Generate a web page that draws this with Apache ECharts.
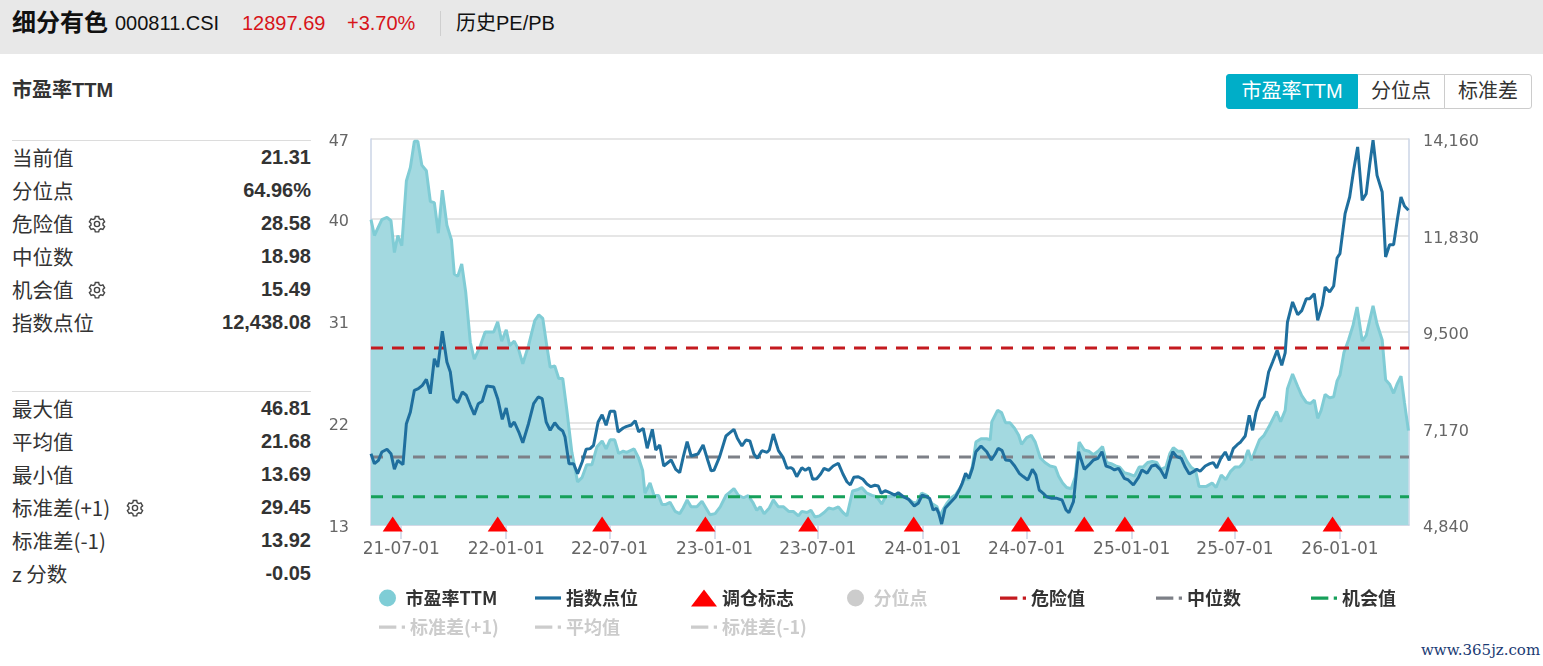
<!DOCTYPE html>
<html><head><meta charset="utf-8">
<script src="https://cdn.jsdelivr.net/npm/echarts@6/dist/echarts.min.js"></script>
<style>
html,body{margin:0;padding:0;width:1543px;height:666px;overflow:hidden;background:#fff;font-family:"Liberation Sans",Arial,"Noto Sans CJK SC",sans-serif;color:#333;}
.abs{position:absolute;white-space:nowrap;}
#header{position:absolute;left:0;top:0;width:1543px;height:54px;background:#e8e8e8;}
.cjk{font-family:"Liberation Sans","Noto Sans CJK SC",sans-serif;}
#btns{position:absolute;left:1226px;top:74px;height:35px;display:flex;}
.btn{height:33px;line-height:33px;font-size:20px;text-align:center;border:1px solid #ccc;background:#fff;color:#333;font-family:"Liberation Sans","Noto Sans CJK SC",sans-serif;}
.btn.active{background:#00aec8;border-color:#00aec8;color:#fff;border-radius:3px 0 0 3px;}
.btn.last{border-radius:0 3px 3px 0;}
.panel{position:absolute;left:12px;width:299px;border-top:1px solid #dcdcdc;}
.row{position:relative;height:33px;line-height:33px;font-size:20px;}
.row .lab{position:absolute;left:0;top:0;font-family:"Noto Sans CJK SC",sans-serif;font-size:20.5px;color:#333;}
.row .val{position:absolute;right:0;top:0;font-weight:bold;font-family:"Liberation Sans",Arial,sans-serif;font-size:20px;color:#333;}
.gear{position:absolute;top:7px;}
#chart{position:absolute;left:0;top:0;width:1543px;height:666px;}
</style>
</head><body>
<div id="header"></div>
<div class="abs cjk" style="left:12px;top:7px;font-size:24px;font-weight:bold;line-height:32px;color:#111;">细分有色</div>
<div class="abs" style="left:115px;top:9px;font-size:20px;line-height:28px;color:#111;">000811.CSI</div>
<div class="abs" style="left:242px;top:9px;font-size:20px;line-height:28px;color:#d7141a;">12897.69</div>
<div class="abs" style="left:347px;top:9px;font-size:20px;line-height:28px;color:#d7141a;">+3.70%</div>
<div class="abs" style="left:440px;top:11px;width:1px;height:25px;background:#cfcfcf;"></div>
<div class="abs cjk" style="left:456px;top:9px;font-size:20px;line-height:28px;color:#111;">历史PE/PB</div>
<div class="abs cjk" style="left:12px;top:76px;font-size:20px;font-weight:bold;line-height:28px;color:#333;">市盈率TTM</div>
<div id="btns"><div class="btn active" style="width:130px;">市盈率TTM</div><div class="btn" style="width:86px;border-left:none;">分位点</div><div class="btn last" style="width:86px;border-left:1px solid #ccc;margin-left:-1px;">标准差</div></div>

<div class="panel" style="top:140px;">
 <div class="row"><span class="lab">当前值</span><span class="val">21.31</span></div>
 <div class="row"><span class="lab">分位点</span><span class="val">64.96%</span></div>
 <div class="row"><span class="lab">危险值</span><svg class="gear" style="left:75px" width="20" height="20" viewBox="0 0 20 20"><g fill="none" stroke="#444" stroke-width="1.4"><path d="M8.3 2.5h3.4l.5 2.2 1.6.9 2.1-.7 1.7 2.9-1.6 1.5v1.8l1.6 1.5-1.7 2.9-2.1-.7-1.6.9-.5 2.2H8.3l-.5-2.2-1.6-.9-2.1.7-1.7-2.9 1.6-1.5V9.3L2.4 7.8l1.7-2.9 2.1.7 1.6-.9z"/><circle cx="10" cy="10" r="2.6"/></g></svg><span class="val">28.58</span></div>
 <div class="row"><span class="lab">中位数</span><span class="val">18.98</span></div>
 <div class="row"><span class="lab">机会值</span><svg class="gear" style="left:75px" width="20" height="20" viewBox="0 0 20 20"><g fill="none" stroke="#444" stroke-width="1.4"><path d="M8.3 2.5h3.4l.5 2.2 1.6.9 2.1-.7 1.7 2.9-1.6 1.5v1.8l1.6 1.5-1.7 2.9-2.1-.7-1.6.9-.5 2.2H8.3l-.5-2.2-1.6-.9-2.1.7-1.7-2.9 1.6-1.5V9.3L2.4 7.8l1.7-2.9 2.1.7 1.6-.9z"/><circle cx="10" cy="10" r="2.6"/></g></svg><span class="val">15.49</span></div>
 <div class="row"><span class="lab">指数点位</span><span class="val">12,438.08</span></div>
</div>
<div class="panel" style="top:391px;">
 <div class="row"><span class="lab">最大值</span><span class="val">46.81</span></div>
 <div class="row"><span class="lab">平均值</span><span class="val">21.68</span></div>
 <div class="row"><span class="lab">最小值</span><span class="val">13.69</span></div>
 <div class="row"><span class="lab">标准差(+1)</span><svg class="gear" style="left:113px" width="20" height="20" viewBox="0 0 20 20"><g fill="none" stroke="#444" stroke-width="1.4"><path d="M8.3 2.5h3.4l.5 2.2 1.6.9 2.1-.7 1.7 2.9-1.6 1.5v1.8l1.6 1.5-1.7 2.9-2.1-.7-1.6.9-.5 2.2H8.3l-.5-2.2-1.6-.9-2.1.7-1.7-2.9 1.6-1.5V9.3L2.4 7.8l1.7-2.9 2.1.7 1.6-.9z"/><circle cx="10" cy="10" r="2.6"/></g></svg><span class="val">29.45</span></div>
 <div class="row"><span class="lab">标准差(-1)</span><span class="val">13.92</span></div>
 <div class="row"><span class="lab">z 分数</span><span class="val">-0.05</span></div>
</div>
<div class="abs" style="left:1421px;top:640px;font-family:'DejaVu Serif',serif;font-size:15px;line-height:20px;color:#1b3a73;">www.365jz.com</div>
<div id="chart"></div>
<script>
// ---- data ----
const peDates = [
'2021-05-09','2021-05-15','2021-05-28','2021-06-06','2021-06-13','2021-06-19','2021-06-25','2021-07-02','2021-07-10','2021-07-17','2021-07-24','2021-07-30','2021-08-06','2021-08-14','2021-08-21','2021-08-28','2021-09-04','2021-09-11','2021-09-19','2021-09-27','2021-10-02','2021-10-08','2021-10-15','2021-10-22','2021-10-30','2021-11-06','2021-11-16','2021-11-25','2021-12-10','2021-12-17','2021-12-24','2022-01-01','2022-01-07','2022-01-15','2022-01-23','2022-01-30','2022-02-09','2022-02-20','2022-02-27','2022-03-06','2022-03-13','2022-03-19','2022-03-27','2022-04-03','2022-04-10','2022-04-17','2022-04-26','2022-05-06','2022-05-14','2022-05-22','2022-05-31','2022-06-09','2022-06-18','2022-06-25','2022-07-02','2022-07-10','2022-07-17','2022-07-25',
'2022-07-31','2022-08-13','2022-08-21','2022-08-28','2022-09-01','2022-09-10','2022-09-17','2022-09-25','2022-10-01','2022-10-07','2022-10-15','2022-10-24','2022-11-01','2022-11-07','2022-11-14','2022-11-21','2022-12-01','2022-12-10','2022-12-17','2022-12-24','2023-01-02','2023-01-11','2023-01-21','2023-01-28','2023-02-04','2023-02-12','2023-02-21','2023-03-01','2023-03-09','2023-03-16','2023-03-22','2023-03-29','2023-04-07','2023-04-14','2023-04-23','2023-05-02','2023-05-11','2023-05-19','2023-05-28','2023-06-03','2023-06-12','2023-06-19','2023-06-26','2023-07-04','2023-07-12','2023-07-20','2023-07-28','2023-08-06','2023-08-14','2023-08-21','2023-08-31','2023-09-08','2023-09-16','2023-09-25','2023-10-04','2023-10-12',
'2023-10-21','2023-10-28','2023-11-06','2023-11-15','2023-11-24','2023-12-04','2023-12-14','2023-12-21','2023-12-30','2024-01-08','2024-01-17','2024-01-26','2024-01-31','2024-02-06','2024-02-12','2024-02-20','2024-02-28','2024-03-08','2024-03-15','2024-03-21','2024-03-28','2024-04-03','2024-04-12','2024-04-22','2024-04-28','2024-05-01','2024-05-11','2024-05-18','2024-05-25','2024-06-02','2024-06-10','2024-06-17','2024-06-22','2024-07-01','2024-07-09','2024-07-16','2024-07-25','2024-08-02','2024-08-11','2024-08-20','2024-08-26','2024-09-02','2024-09-09','2024-09-17','2024-09-24','2024-10-01','2024-10-10','2024-10-18','2024-10-26','2024-11-03','2024-11-11','2024-11-18','2024-11-26','2024-12-04','2024-12-11','2024-12-19','2024-12-27','2025-01-06','2025-01-14','2025-01-21','2025-01-29','2025-02-06','2025-02-14','2025-02-21','2025-03-02','2025-03-09','2025-03-15','2025-03-23','2025-03-30','2025-04-08','2025-04-15','2025-04-23','2025-04-29',
'2025-05-12','2025-05-22','2025-05-29','2025-06-07','2025-06-15','2025-06-23','2025-07-01','2025-07-09','2025-07-16','2025-07-24','2025-07-30','2025-08-05','2025-08-13','2025-08-21','2025-08-29','2025-09-05','2025-09-12','2025-09-19','2025-09-27','2025-10-01','2025-10-10','2025-10-19','2025-10-26','2025-11-03','2025-11-10','2025-11-17','2025-11-23','2025-11-29','2025-12-06','2025-12-14','2025-12-21','2025-12-27','2026-01-01','2026-01-08','2026-01-16','2026-01-24','2026-01-31','2026-02-09','2026-02-16','2026-02-22','2026-02-28','2026-03-07','2026-03-16','2026-03-22','2026-03-29','2026-04-05','2026-04-11','2026-04-18','2026-04-24','2026-05-01'
];
const peValues = [
39.9,38.5,39.9,40.1,39.8,37.0,38.5,37.6,43.3,44.5,46.8,46.8,44.7,44.2,41.5,41.4,38.7,42.5,39.4,38.1,35.1,34.9,36.0,33.5,29.1,27.6,28.7,30.0,30.0,30.9,29.2,30.2,28.8,29.2,28.4,27.2,28.8,31.0,31.5,31.2,28.8,26.9,27.0,25.9,25.9,23.2,19.4,16.8,17.2,18.3,18.3,19.9,20.4,19.7,20.5,20.5,19.3,19.5,
19.4,19.7,18.9,17.8,15.8,16.7,15.6,15.6,14.8,14.8,15.0,14.2,14.0,14.5,15.2,14.6,14.6,15.1,14.5,13.9,14.0,14.6,15.6,15.9,16.2,15.6,15.4,15.6,15.0,14.3,14.6,14.0,14.5,15.2,14.6,14.6,14.2,14.2,13.8,14.2,14.1,14.3,13.7,13.8,14.1,14.5,14.4,14.6,14.1,13.8,16.0,16.1,16.3,15.8,15.6,15.5,
14.85,15.5,15.5,15.6,15.5,15.4,15.0,14.95,15.8,15.6,14.9,14.6,13.8,14.4,14.9,15.4,15.7,16.4,17.1,17.0,18.2,20.3,20.6,20.6,20.5,22.1,23.1,22.9,22.0,22.0,21.5,20.9,20.1,20.7,20.9,20.3,18.9,18.5,18.2,18.1,17.3,16.7,16.3,16.2,17.2,20.3,19.6,19.5,19.2,19.5,19.9,18.5,18.4,18.2,18.1,17.6,17.5,17.3,18.1,18.1,18.5,18.6,18.5,17.9,18.1,19.3,19.8,19.5,19.5,18.6,18.1,17.8,16.4,
16.4,16.7,16.3,17.4,17.0,17.7,18.1,18.1,18.5,19.6,18.7,19.5,20.5,20.9,21.6,22.3,23.0,22.1,23.1,25.0,26.3,25.2,24.4,23.8,23.7,24.0,22.4,23.1,24.5,24.2,24.3,25.7,26.2,28.2,29.3,30.6,32.2,29.2,29.7,31.0,32.3,30.7,29.3,25.8,25.4,24.6,25.4,26.1,23.8,21.31
];
const indexDates = [
'2021-05-09','2021-05-15','2021-05-22','2021-05-28','2021-06-06','2021-06-13','2021-06-19','2021-06-25','2021-06-28','2021-07-04','2021-07-10','2021-07-17','2021-07-24','2021-07-31','2021-08-07','2021-08-14','2021-08-21','2021-08-28','2021-09-03','2021-09-11','2021-09-19','2021-09-25','2021-10-01','2021-10-08','2021-10-16','2021-10-23','2021-10-30','2021-11-06','2021-11-13','2021-11-20','2021-11-28','2021-12-10','2021-12-17','2021-12-25','2022-01-01','2022-01-08','2022-01-15','2022-01-23','2022-01-30','2022-02-09','2022-02-18','2022-02-26','2022-03-05','2022-03-12','2022-03-19','2022-03-27','2022-04-03','2022-04-10','2022-04-14','2022-04-21','2022-04-29','2022-05-06','2022-05-14','2022-05-21','2022-05-28','2022-06-03','2022-06-11','2022-06-18','2022-06-25','2022-07-02','2022-07-10','2022-07-16','2022-07-25',
'2022-07-30','2022-08-08','2022-08-15','2022-08-21','2022-08-29','2022-09-05','2022-09-14','2022-09-20','2022-09-27','2022-10-04','2022-10-17','2022-10-25','2022-11-01','2022-11-07','2022-11-14','2022-11-21','2022-12-03','2022-12-12','2022-12-20','2022-12-26','2022-12-31','2023-01-10','2023-01-21','2023-01-28','2023-02-04','2023-02-10','2023-02-18','2023-02-25','2023-03-04','2023-03-11','2023-03-17','2023-03-25','2023-04-03','2023-04-07','2023-04-14','2023-04-23','2023-05-01','2023-05-08','2023-05-15','2023-05-19','2023-05-25','2023-06-03','2023-06-09','2023-06-16','2023-06-22','2023-06-29','2023-07-06','2023-07-12','2023-07-20','2023-07-28','2023-08-06','2023-08-14','2023-08-21','2023-08-27','2023-09-02','2023-09-10','2023-09-18','2023-09-25','2023-10-02',
'2023-10-09','2023-10-15','2023-10-20','2023-10-27','2023-11-04','2023-11-13','2023-11-19','2023-11-28','2023-12-07','2023-12-17','2023-12-24','2023-12-31','2024-01-07','2024-01-13','2024-01-19','2024-01-25','2024-01-29','2024-02-03','2024-02-09','2024-02-18','2024-02-27','2024-03-05','2024-03-10','2024-03-16','2024-03-22','2024-03-28','2024-04-03','2024-04-12','2024-04-22','2024-04-30','2024-05-07','2024-05-12','2024-05-19','2024-05-25','2024-06-02','2024-06-10','2024-06-18','2024-06-25','2024-07-03','2024-07-11','2024-07-17','2024-07-23','2024-07-30','2024-08-05','2024-08-14','2024-08-23','2024-09-01','2024-09-08','2024-09-13','2024-09-21','2024-09-30','2024-10-10','2024-10-18','2024-10-26','2024-11-03','2024-11-10','2024-11-17','2024-11-24','2024-12-02','2024-12-09','2024-12-19','2024-12-26','2025-01-04','2025-01-13','2025-01-19','2025-01-28','2025-02-05','2025-02-12','2025-02-20','2025-03-01','2025-03-08','2025-03-14','2025-03-21','2025-03-29','2025-04-05','2025-04-12','2025-04-19','2025-04-25',
'2025-05-01','2025-05-10','2025-05-18','2025-05-24','2025-05-30','2025-06-06','2025-06-14','2025-06-21','2025-06-28','2025-07-05','2025-07-11','2025-07-19','2025-07-26','2025-08-01','2025-08-07','2025-08-14','2025-08-21','2025-08-29','2025-09-05','2025-09-13','2025-09-21','2025-09-27','2025-10-01','2025-10-10','2025-10-19','2025-10-26','2025-11-03','2025-11-09','2025-11-17','2025-11-23','2025-12-01','2025-12-06','2025-12-14','2025-12-21','2025-12-27','2026-01-01','2026-01-10','2026-01-18','2026-01-25','2026-02-01','2026-02-09','2026-02-16','2026-02-22','2026-02-28','2026-03-07','2026-03-16','2026-03-22','2026-03-29','2026-04-05','2026-04-12','2026-04-18','2026-04-24','2026-05-01'
];
const indexValues = [
6562,6320,6402,6603,6668,6562,6185,6402,6360,6296,7286,7568,8092,8131,8213,8358,8010,8855,8655,9517,8776,8534,7890,7793,8051,7972,7730,7503,7769,7827,8196,8172,7890,7392,7665,7206,7327,7085,6827,7286,7769,7931,7890,7327,7126,7310,7182,7110,6965,6320,6320,6079,6361,6668,6684,6764,7327,7503,7247,7585,7585,7085,7182,
7214,7254,7358,7093,7174,6692,7150,6651,6772,6265,6410,6185,6103,6474,6851,6506,6554,6772,6410,6151,6160,6490,6989,7069,7150,6933,6748,6892,6868,6554,6450,6635,6595,6651,7037,6635,6474,6209,6225,6185,6006,6225,6160,6225,5943,5959,6071,6209,6160,6265,6330,6071,5885,5806,5991,6006,5943,5830,5765,
5800,5782,5605,5668,5620,5564,5620,5523,5460,5299,5363,5564,5523,5484,5202,5242,5122,4864,5242,5378,5508,5685,5847,6088,5967,6209,6610,6748,6610,6410,6554,6692,6635,6410,6400,6265,6088,6010,5927,6185,6050,5685,5605,5523,5484,5484,5444,5202,5137,5404,6610,6185,6290,6410,6450,6610,6265,6233,6169,6209,5967,5927,5806,5991,6169,6088,6265,6290,6185,5967,6345,6610,6490,6450,6233,6071,6128,6185,
6137,6265,6321,6345,6216,6441,6603,6402,6683,6779,6845,6989,7489,7126,7568,7827,7931,8534,8776,9058,8696,8998,9741,10225,9918,10015,10304,10304,10425,9783,10143,10587,10466,10611,11287,11391,12357,12760,13404,13967,12680,12840,13525,14129,13283,12880,11311,11608,11608,12252,12760,12542,12438.08
];
const rebalanceDates = ['2021-06-16','2021-12-17','2022-06-18','2022-12-16','2023-06-14','2023-12-16','2024-06-21','2024-10-10','2024-12-20','2025-06-19','2025-12-19'];
const xTickDates = ['2021-07-01','2022-01-01','2022-07-01','2023-01-01','2023-07-01','2024-01-01','2024-07-01','2025-01-01','2025-07-01','2026-01-01'];
const xRange = ['2021-05-09','2026-05-02'];
const peAxis = {min:13, max:47, interval:9};
const indexAxis = {min:4840, max:14160, interval:2330};
const dangerValue = 28.58, medianValue = 18.98, chanceValue = 15.49;
const stdUpValue = 29.45, meanValue = 21.68, stdDownValue = 13.92;
const hiddenSeries = ['分位点', '标准差(+1)', '平均值', '标准差(-1)'];

// ---- chart ----
const chart = echarts.init(document.getElementById('chart'));
const P = s => echarts.number.parseDate(s).getTime();
const zip = (d, v) => d.map((x, i) => [P(x), v[i]]);
const flat = v => [[P(xRange[0]), v], [P(xRange[1]), v]];
const pad = n => (n < 10 ? '0' : '') + n;
const fmt = v => { const d = new Date(v); return String(d.getFullYear()).slice(2) + '-' + pad(d.getMonth() + 1) + '-' + pad(d.getDate()); };
const axisColor = '#cbd5e6';
const dash = [12, 9];
const cjk = '"Noto Sans CJK SC","Liberation Sans",sans-serif';
const yLabelRich = {a: {color: '#666', fontSize: 16, fontFamily: 'DejaVu Sans', padding: [6, 0, 0, 0]}};
const refLine = (name, v, color) => ({
  name, type: 'line', yAxisIndex: 0, data: flat(v), symbol: 'none', silent: true, z: 3,
  itemStyle: {color}, lineStyle: {color, width: 3, type: dash}
});
const ICON_LINE = 'path://M0,0H24V3H0Z';
const ICON_DASH = 'path://M0,0H16V3H0Z M21,0H24V3H21Z';
const legendItem = (name, icon, left, top) => {
  const sel = {}; sel[name] = hiddenSeries.indexOf(name) < 0;
  return {
    left, top, padding: 0, itemWidth: 26, itemHeight: 17, itemGap: 0, selected: sel,
    textStyle: {fontSize: 18, fontWeight: 'bold', color: '#333', fontFamily: cjk, lineHeight: 18},
    inactiveColor: '#cccccc', data: [{name, icon}]
  };
};

chart.setOption({
  animation: false,
  grid: {left: 371, top: 139, width: 1038, height: 386, containLabel: false},
  legend: [
    legendItem('市盈率TTM', 'circle', 379, 589),
    legendItem('指数点位', ICON_LINE, 535, 589),
    legendItem('调仓标志', 'triangle', 691, 589),
    legendItem('分位点', 'circle', 847, 589),
    legendItem('危险值', ICON_DASH, 1000, 589),
    legendItem('中位数', ICON_DASH, 1156, 589),
    legendItem('机会值', ICON_DASH, 1311, 589),
    legendItem('标准差(+1)', ICON_DASH, 379, 618),
    legendItem('平均值', ICON_DASH, 535, 618),
    legendItem('标准差(-1)', ICON_DASH, 691, 618)
  ],
  xAxis: {
    type: 'value', min: P(xRange[0]), max: P(xRange[1]),
    axisLine: {lineStyle: {color: axisColor, width: 1.5}},
    axisTick: {show: true, customValues: xTickDates.map(P), length: 14, lineStyle: {color: axisColor, width: 1.5}},
    axisLabel: {customValues: xTickDates.map(P), formatter: fmt, color: '#666', fontSize: 17, margin: 16, fontFamily: 'DejaVu Sans'},
    splitLine: {show: false}
  },
  yAxis: [
    {type: 'value', min: peAxis.min, max: peAxis.max, interval: peAxis.interval, position: 'left',
     axisLine: {show: true, lineStyle: {color: axisColor, width: 1.5}}, axisTick: {show: false},
     axisLabel: {margin: 22, formatter: v => '{a|' + v + '}', rich: yLabelRich},
     splitLine: {show: true, lineStyle: {color: '#e6e6e6', width: 2}}},
    {type: 'value', min: indexAxis.min, max: indexAxis.max, interval: indexAxis.interval, position: 'right',
     axisLine: {show: true, lineStyle: {color: axisColor, width: 1.5}}, axisTick: {show: false},
     axisLabel: {margin: 14, formatter: v => '{a|' + echarts.format.addCommas(v) + '}', rich: yLabelRich},
     splitLine: {show: true, lineStyle: {color: '#e6e6e6', width: 2}}}
  ],
  series: [
    {name: '市盈率TTM', type: 'line', yAxisIndex: 0, data: zip(peDates, peValues), symbol: 'none', z: 2,
     itemStyle: {color: '#7fcdd6'}, lineStyle: {color: '#80ccd5', width: 3},
     areaStyle: {color: '#a3d9e0', opacity: 1, origin: 'start'}},
    refLine('危险值', dangerValue, '#c41a1f'),
    refLine('中位数', medianValue, '#7d8087'),
    refLine('机会值', chanceValue, '#16a05a'),
    refLine('标准差(+1)', stdUpValue, '#e8a33d'),
    refLine('平均值', meanValue, '#8a6fc0'),
    refLine('标准差(-1)', stdDownValue, '#3d8fe8'),
    {name: '分位点', type: 'line', yAxisIndex: 0, data: [], symbol: 'none', itemStyle: {color: '#bbbbbb'}},
    {name: '指数点位', type: 'line', yAxisIndex: 1, data: zip(indexDates, indexValues), symbol: 'none', z: 4,
     itemStyle: {color: '#1f6f9e'}, lineStyle: {color: '#1f6f9e', width: 3}},
    {name: '调仓标志', type: 'scatter', yAxisIndex: 0, data: rebalanceDates.map(d => [P(d), peAxis.min]),
     symbol: 'triangle', symbolSize: [20, 15], symbolOffset: [0, -1], clip: false, z: 6,
     itemStyle: {color: '#ff0000', opacity: 1}}
  ]
});
</script>
</body></html>
